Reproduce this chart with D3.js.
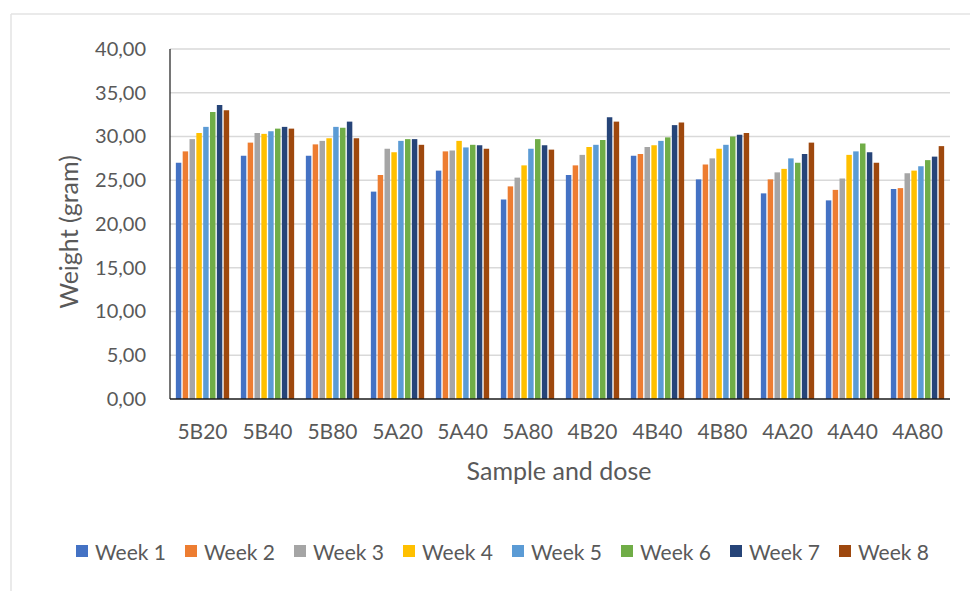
<!DOCTYPE html>
<html>
<head>
<meta charset="utf-8">
<script src="https://cdn.jsdelivr.net/npm/d3@7"></script>
<style>
  html, body { margin: 0; padding: 0; background: #ffffff; }
  svg { display: block; }
  text { font-family: Lato, "Open Sans", sans-serif; fill: #595959; }
</style>
</head>
<body>
<svg id="chart" width="970" height="591"></svg>
<script>
// Sample/dose groups on the x axis
const categories = ["5B20", "5B40", "5B80", "5A20", "5A40", "5A80",
                    "4B20", "4B40", "4B80", "4A20", "4A40", "4A80"];

// Series names (one bar per week in every group)
const weeks = ["Week 1", "Week 2", "Week 3", "Week 4", "Week 5", "Week 6", "Week 7", "Week 8"];

// Mean weight (gram) per week, one value per group
const week1 = [27.0, 27.8, 27.8, 23.7, 26.1, 22.8, 25.6, 27.8, 25.1, 23.5, 22.7, 24.0];
const week2 = [28.3, 29.3, 29.1, 25.6, 28.3, 24.3, 26.7, 28.0, 26.8, 25.1, 23.9, 24.1];
const week3 = [29.7, 30.4, 29.5, 28.6, 28.4, 25.3, 27.9, 28.8, 27.5, 25.9, 25.2, 25.8];
const week4 = [30.4, 30.3, 29.8, 28.2, 29.5, 26.7, 28.8, 29.0, 28.6, 26.3, 27.9, 26.1];
const week5 = [31.1, 30.6, 31.1, 29.5, 28.75, 28.6, 29.05, 29.5, 29.05, 27.5, 28.3, 26.6];
const week6 = [32.8, 30.9, 31.0, 29.7, 29.05, 29.7, 29.6, 29.9, 30.0, 27.0, 29.2, 27.3];
const week7 = [33.6, 31.1, 31.7, 29.7, 29.0, 29.0, 32.2, 31.3, 30.2, 28.0, 28.2, 27.7];
const week8 = [33.0, 30.9, 29.8, 29.05, 28.6, 28.5, 31.7, 31.6, 30.4, 29.3, 27.0, 28.9];

// Y axis ticks
const yTicks = [0, 5, 10, 15, 20, 25, 30, 35, 40];

// Office palette for the eight weeks
const colors = ["#4472C4", "#ED7D31", "#A5A5A5", "#FFC000", "#5B9BD5", "#70AD47", "#264478", "#9E480E"];

const seriesValues = [week1, week2, week3, week4, week5, week6, week7, week8];

const svg = d3.select("#chart");

// Outer chart frame (light border on top and left)
svg.append("line").attr("x1", 11).attr("x2", 970).attr("y1", 14).attr("y2", 14)
  .attr("stroke", "#e3e3e3").attr("stroke-width", 1.5);
svg.append("line").attr("x1", 11).attr("x2", 11).attr("y1", 14).attr("y2", 591)
  .attr("stroke", "#e3e3e3").attr("stroke-width", 1.5);

const plot = { left: 170, right: 950, top: 49, bottom: 399 };

const x0 = d3.scaleBand()
  .domain(categories)
  .range([plot.left, plot.right])
  .paddingInner(0.18)
  .paddingOuter(0.09);

const x1 = d3.scaleBand()
  .domain(d3.range(weeks.length))
  .range([0, x0.bandwidth()])
  .paddingInner(0.2);

const y = d3.scaleLinear().domain([0, 40]).range([plot.bottom, plot.top]);

const fmt = v => d3.format(".2f")(v).replace(".", ",");

// Gridlines
svg.append("g")
  .selectAll("line")
  .data(yTicks.filter(t => t > 0))
  .join("line")
  .attr("x1", plot.left).attr("x2", plot.right)
  .attr("y1", d => y(d)).attr("y2", d => y(d))
  .attr("stroke", "#d9d9d9").attr("stroke-width", 1.5);

// Y axis labels
const yAxis = svg.append("g")
  .attr("transform", `translate(${plot.left},0)`)
  .call(d3.axisLeft(y).tickValues(yTicks).tickFormat(fmt).tickSize(0).tickPadding(24));
yAxis.select(".domain").remove();
yAxis.selectAll("text")
  .style("font-family", "Lato, 'Open Sans', sans-serif")
  .style("font-size", "20px")
  .attr("fill", "#595959");

// Bars
const groups = svg.append("g")
  .selectAll("g")
  .data(categories)
  .join("g")
  .attr("transform", d => `translate(${x0(d)},0)`);

groups.selectAll("rect")
  .data((c, ci) => seriesValues.map((vals, si) => ({ si, v: vals[ci] })))
  .join("rect")
  .attr("x", d => x1(d.si))
  .attr("width", x1.bandwidth())
  .attr("y", d => y(d.v))
  .attr("height", d => y(0) - y(d.v))
  .attr("fill", d => colors[d.si]);

// Axis lines
svg.append("line")
  .attr("x1", plot.left).attr("x2", plot.left)
  .attr("y1", plot.top).attr("y2", plot.bottom)
  .attr("stroke", "#1a1a1a").attr("stroke-width", 1.2);
svg.append("line")
  .attr("x1", plot.left).attr("x2", plot.right)
  .attr("y1", plot.bottom).attr("y2", plot.bottom)
  .attr("stroke", "#1a1a1a").attr("stroke-width", 1.5);

// Category labels
const xAxis = svg.append("g")
  .attr("transform", `translate(0,${plot.bottom})`)
  .call(d3.axisBottom(x0).tickSize(0).tickPadding(25));
xAxis.select(".domain").remove();
xAxis.selectAll("text")
  .style("font-family", "Lato, 'Open Sans', sans-serif")
  .style("font-size", "21px")
  .attr("fill", "#595959");

// Axis titles
svg.append("text")
  .attr("x", (plot.left + plot.right) / 2 - 1)
  .attr("y", 480)
  .attr("text-anchor", "middle")
  .style("font-size", "25px")
  .text("Sample and dose");

svg.append("text")
  .attr("transform", `translate(78,${(plot.top + plot.bottom) / 2 + 8}) rotate(-90)`)
  .attr("text-anchor", "middle")
  .style("font-size", "25px")
  .text("Weight (gram)");

// Legend
const legendStep = 109;
const legend = svg.append("g")
  .selectAll("g")
  .data(weeks)
  .join("g")
  .attr("transform", (d, i) => `translate(${76 + i * legendStep},545)`);

legend.append("rect")
  .attr("width", 12).attr("height", 12)
  .attr("fill", (d, i) => colors[i]);

legend.append("text")
  .attr("x", 19)
  .attr("y", 15)
  .style("font-size", "21px")
  .text(d => d);
</script>
</body>
</html>
